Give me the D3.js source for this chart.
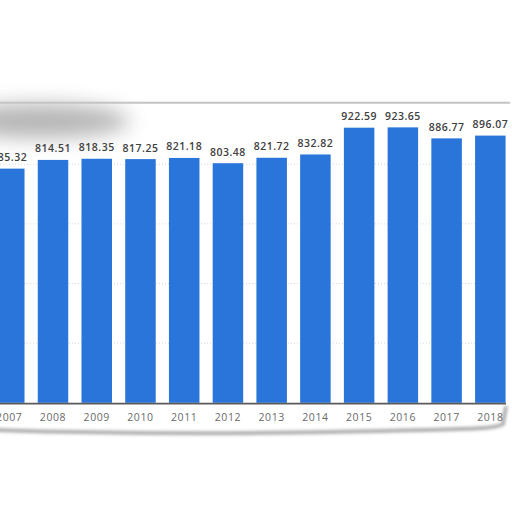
<!DOCTYPE html>
<html>
<head>
<meta charset="utf-8">
<script src="https://cdn.jsdelivr.net/npm/d3@7"></script>
<style>
html,body{margin:0;padding:0;background:#fff;overflow:hidden;}
svg{display:block;}
</style>
</head>
<body>
<svg id="chart" width="512" height="512"></svg>
<script>
const years = ["2007","2008","2009","2010","2011","2012","2013","2014","2015","2016","2017","2018"];
const values = [785.32,814.51,818.35,817.25,821.18,803.48,821.72,832.82,922.59,923.65,886.77,896.07];
const yTicks = [0,200,400,600,800,1000];

const svg = d3.select("#chart");
const defs = svg.append("defs");
defs.append("filter").attr("id","blurBig").attr("x","-50%").attr("y","-80%").attr("width","200%").attr("height","260%")
  .append("feGaussianBlur").attr("stdDeviation",10);
defs.append("filter").attr("id","blurSmall").attr("x","-10%").attr("y","-50%").attr("width","120%").attr("height","200%")
  .append("feGaussianBlur").attr("stdDeviation",1.6);

const x = d3.scaleBand().domain(years).range([-12.6, 512.2]).paddingInner(0.3025).paddingOuter(0.15125);
const y = d3.scaleLinear().domain([0,1000]).range([402.8, 104.6]);

// shadows
svg.append("ellipse").attr("cx",40).attr("cy",121).attr("rx",90).attr("ry",17)
  .attr("fill","#858585").attr("opacity",0.6).attr("filter","url(#blurBig)");
svg.append("path")
  .attr("d","M-5,430 C120,434 250,434 380,431 C450,429 495,430 503,424 L506,406")
  .attr("fill","none").attr("stroke","#8f8f8f").attr("stroke-width",4).attr("opacity",0.7)
  .attr("filter","url(#blurSmall)");
svg.append("line").attr("x1",507).attr("x2",507).attr("y1",102).attr("y2",406)
  .attr("stroke","#bdbdbd").attr("stroke-width",2).attr("filter","url(#blurSmall)");

// gridlines
svg.append("g").selectAll("line").data(yTicks.filter(t => t > 0 && t < 1000)).join("line")
  .attr("x1",0).attr("x2",506).attr("y1",d => y(d)).attr("y2",d => y(d))
  .attr("stroke","#d8d8d8").attr("stroke-width",1).attr("stroke-dasharray","1,2");

// top border
svg.append("line").attr("x1",0).attr("x2",510).attr("y1",102.8).attr("y2",102.8)
  .attr("stroke","#c4c4c4").attr("stroke-width",2);

// bars
svg.append("g").selectAll("rect").data(years).join("rect")
  .attr("x",d => x(d)).attr("width",x.bandwidth())
  .attr("y",(d,i) => y(values[i])).attr("height",(d,i) => y(0) - y(values[i]))
  .attr("fill","#2a75d9");

// baseline
svg.append("line").attr("x1",0).attr("x2",506).attr("y1",y(0)+0.8).attr("y2",y(0)+0.8)
  .attr("stroke","#5a5a5a").attr("stroke-width",1.6);

// value labels
svg.append("g").selectAll("text").data(years).join("text")
  .attr("x",d => x(d) + x.bandwidth()/2)
  .attr("y",(d,i) => y(values[i]) - 7.5)
  .attr("text-anchor","middle")
  .attr("font-family","'Open Sans', sans-serif").attr("font-weight","600").attr("font-size","10.5px")
  .attr("letter-spacing","0.5px").attr("fill","#404040")
  .text((d,i) => values[i].toFixed(2));

// x axis labels
const xAxis = d3.axisBottom(x).tickSize(0).tickPadding(0);
const gx = svg.append("g").attr("transform","translate(0,414)").call(xAxis);
gx.select(".domain").remove();
gx.selectAll("text").attr("dy","0.71em")
  .attr("font-family","'Open Sans', sans-serif").attr("font-size","10.5px")
  .attr("letter-spacing","0.6px").attr("fill","#6a6a6a");
</script>
</body>
</html>
